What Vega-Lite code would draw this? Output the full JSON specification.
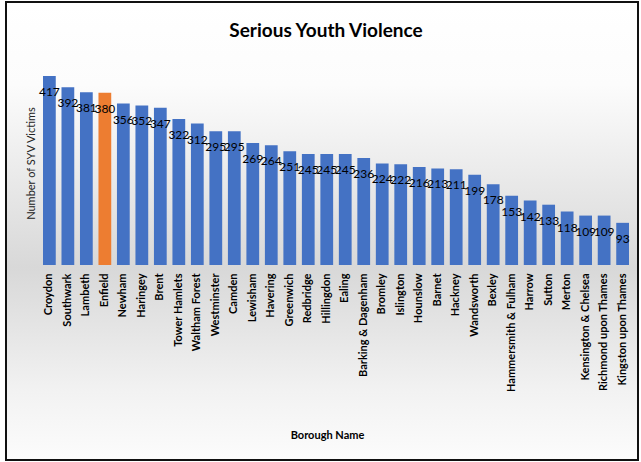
{
  "$schema": "https://vega.github.io/schema/vega-lite/v6.json",
  "width": 632,
  "height": 458,
  "autosize": "none",
  "padding": {"left": 6, "top": 2, "right": 3, "bottom": 2},
  "background": "white",
  "config": {
    "view": {
      "stroke": "#111111",
      "strokeWidth": 2,
      "fill": {"gradient": "linear", "x1": 0, "y1": 0, "x2": 0, "y2": 1, "stops": [
        {"offset": 0, "color": "#ffffff"},
        {"offset": 0.18, "color": "#fcfcfc"},
        {"offset": 0.58, "color": "#d8d8d8"},
        {"offset": 0.85, "color": "#f2f2f2"},
        {"offset": 1, "color": "#fcfcfc"}
      ]}
    }
  },
  "title": {"text": "Serious Youth Violence", "font": "Lato", "fontSize": 19, "fontWeight": "bold", "color": "black", "anchor": "middle", "offset": -54, "dx": 4, "baseline": "alphabetic"},
  "data": {"values": [
    {"borough": "Croydon", "victims": 417},
    {"borough": "Southwark", "victims": 392},
    {"borough": "Lambeth", "victims": 381},
    {"borough": "Enfield", "victims": 380},
    {"borough": "Newham", "victims": 356},
    {"borough": "Haringey", "victims": 352},
    {"borough": "Brent", "victims": 347},
    {"borough": "Tower Hamlets", "victims": 322},
    {"borough": "Waltham Forest", "victims": 312},
    {"borough": "Westminster", "victims": 295},
    {"borough": "Camden", "victims": 295},
    {"borough": "Lewisham", "victims": 269},
    {"borough": "Havering", "victims": 264},
    {"borough": "Greenwich", "victims": 251},
    {"borough": "Redbridge", "victims": 245},
    {"borough": "Hillingdon", "victims": 245},
    {"borough": "Ealing", "victims": 245},
    {"borough": "Barking & Dagenham", "victims": 236},
    {"borough": "Bromley", "victims": 224},
    {"borough": "Islington", "victims": 222},
    {"borough": "Hounslow", "victims": 216},
    {"borough": "Barnet", "victims": 213},
    {"borough": "Hackney", "victims": 211},
    {"borough": "Wandsworth", "victims": 199},
    {"borough": "Bexley", "victims": 178},
    {"borough": "Hammersmith & Fulham", "victims": 153},
    {"borough": "Harrow", "victims": 142},
    {"borough": "Sutton", "victims": 133},
    {"borough": "Merton", "victims": 118},
    {"borough": "Kensington & Chelsea", "victims": 109},
    {"borough": "Richmond upon Thames", "victims": 109},
    {"borough": "Kingston upon Thames", "victims": 93}
  ]},
  "encoding": {
    "x": {
      "field": "borough", "type": "nominal", "sort": null,
      "scale": {"paddingInner": 0.31, "paddingOuter": 0, "range": [37, 623], "round": false},
      "axis": {
        "orient": "bottom", "offset": -195, "labelAngle": -90, "labelFont": "Lato", "labelFontSize": 11,
        "labelFontWeight": "bold", "labelColor": "black", "labelPadding": 8, "labelOverlap": false,
        "ticks": false, "domain": false, "grid": false,
        "title": "Borough Name", "titleX": 321, "titleY": 170, "titleFont": "Lato", "titleFontSize": 11,
        "titleFontWeight": "bold", "titleColor": "black", "titleBaseline": "middle", "titleAlign": "center"
      }
    },
    "y": {
      "field": "victims", "type": "quantitative",
      "scale": {"domain": [-430, 580], "nice": false, "zero": false},
      "axis": {
        "labels": false, "ticks": false, "domain": false, "grid": false,
        "title": "Number of SYV Victims", "titleX": 25, "titleY": 161, "titleAngle": -90,
        "titleFont": "Lato", "titleFontSize": 11, "titleFontWeight": "normal", "titleColor": "#222222",
        "titleAlign": "center", "titleBaseline": "middle"
      }
    }
  },
  "layer": [
    {
      "mark": {"type": "bar"},
      "encoding": {
        "y2": {"datum": 0},
        "color": {"condition": {"test": "datum.borough === 'Enfield'", "value": "#ED7D31"}, "value": "#4472C4"}
      }
    },
    {
      "mark": {"type": "text", "baseline": "middle", "dy": 16, "font": "Lato", "fontSize": 12, "color": "black"},
      "encoding": {"text": {"field": "victims", "type": "quantitative"}}
    }
  ]
}
